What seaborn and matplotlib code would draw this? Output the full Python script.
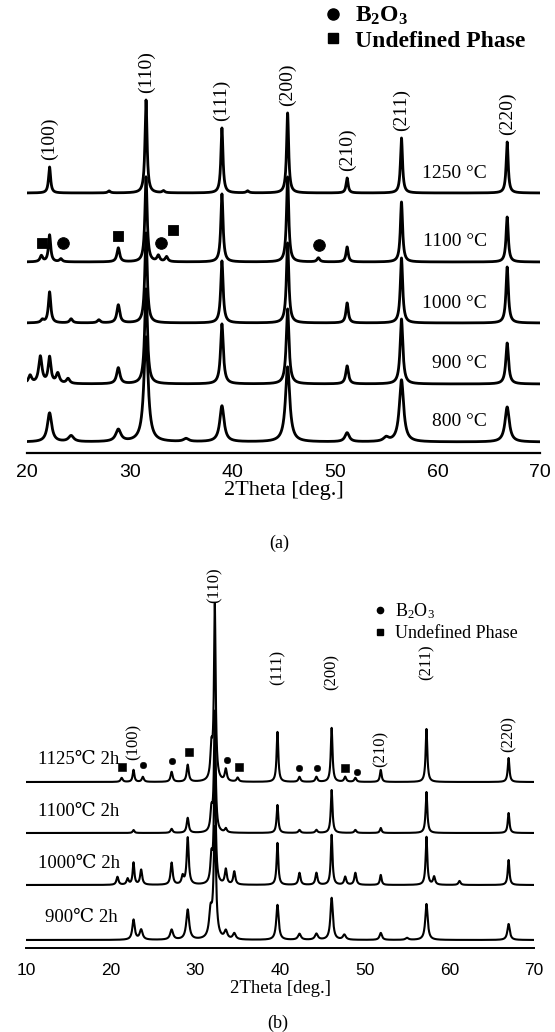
import numpy as np
import pandas as pd
import matplotlib
matplotlib.use('Agg')
import matplotlib.pyplot as plt
from matplotlib.lines import Line2D
import seaborn as sns

# ---------------- (a) calcined 800 - 1250 C ----------------
a_hkl = ['(100)', '(110)', '(111)', '(200)', '(210)', '(211)', '(220)']
a_pos = [22.2, 31.6, 39.0, 45.4, 51.2, 56.5, 66.8]
a_temps = ['1250 °C', '1100 °C', '1000 °C', '900 °C', '800 °C']
# peak heights (same order as a_hkl)
a_1250 = [26, 93, 65, 80, 15, 55, 51]
a_1100 = [27, 85, 68, 85, 15, 60, 45]
a_1000 = [31, 90, 62, 80, 20, 65, 56]
a_900 = [26, 95, 60, 75, 18, 65, 41]
a_800 = [29, 105, 36, 75, 9, 62, 35]
a_hwhm = [0.12, 0.13, 0.14, 0.16, 0.25]
# minor reflections (2theta, height)
a_extra_1250 = [(28.0, 2), (33.3, 2), (41.5, 2)]
a_extra_1100 = [(21.4, 6), (23.3, 3), (28.9, 14), (32.8, 6), (33.6, 5), (48.4, 4)]
a_extra_1000 = [(21.5, 3), (24.3, 4), (27.0, 3), (28.9, 18)]
a_extra_900 = [(20.3, 8), (21.3, 27), (23.0, 10), (24.0, 5), (28.9, 16)]
a_extra_800 = [(24.3, 6), (28.9, 12), (35.5, 3), (55.0, 4)]
a_b2o3 = [23.5, 33.1, 48.5]
a_undef = [21.5, 28.9, 34.2]

# ---------------- (b) 2h dwell 900 - 1125 C ----------------
b_hkl = ['(100)', '(110)', '(111)', '(200)', '(210)', '(211)', '(220)']
b_pos = [22.7, 32.3, 39.7, 46.1, 51.9, 57.3, 67.0]
b_temps = ['1125℃ 2h', '1100℃ 2h', '1000℃ 2h', '900℃ 2h']
b_1125 = [12, 175, 50, 54, 12, 53, 24]
b_1100 = [3, 120, 28, 43, 5, 41, 20]
b_1000 = [22, 130, 42, 50, 10, 48, 25]
b_900 = [20, 110, 35, 42, 7, 36, 16]
b_hwhm = [0.12, 0.12, 0.12, 0.17]
b_extra_1125 = [(21.3, 4), (23.8, 5), (27.2, 10), (29.1, 17), (31.9, 30), (33.6, 12),
                (35.0, 4), (42.3, 5), (44.3, 5), (47.7, 5), (48.9, 4)]
b_extra_1100 = [(27.2, 4), (29.1, 15), (31.9, 20), (33.6, 4), (42.3, 3), (44.3, 3), (48.9, 3)]
b_extra_1000 = [(20.8, 8), (22.0, 6), (23.6, 15), (27.2, 22), (28.5, 8), (29.1, 47), (31.9, 25),
                (33.6, 15), (34.6, 13), (42.3, 12), (44.3, 12), (47.7, 8), (48.9, 12),
                (58.2, 8), (61.2, 4)]
b_extra_900 = [(23.6, 10), (27.2, 10), (29.1, 30), (31.8, 25), (33.6, 8), (34.6, 6),
               (42.3, 6), (44.3, 6), (47.6, 5), (55.0, 2)]
b_b2o3 = [23.8, 27.2, 33.7, 42.3, 44.4, 49.1]
b_undef = [21.3, 29.3, 35.1, 47.7]


def pattern(x, pos, heights, hwhm, extra):
    # sum of lorentzian reflections
    y = np.zeros_like(x)
    for c, h in zip(pos, heights):
        y += h / (1 + ((x - c) / hwhm) ** 2)
    for c, h in extra:
        y += h / (1 + ((x - c) / (hwhm * 1.2)) ** 2)
    return y


sns.set_theme(style='white')
plt.rcParams['font.family'] = ['Liberation Serif', 'DejaVu Serif']
plt.rcParams['mathtext.fontset'] = 'custom'
plt.rcParams['mathtext.rm'] = 'Liberation Serif'
plt.rcParams['mathtext.it'] = 'Liberation Serif:italic'
plt.rcParams['mathtext.bf'] = 'Liberation Serif:bold'
plt.rcParams['text.color'] = 'black'
plt.rcParams['axes.labelcolor'] = 'black'
plt.rcParams['xtick.color'] = 'black'

W, H = 555, 1032
fig = plt.figure(figsize=(W / 100, H / 100), dpi=100)

# layout (pixels)
ax_a = fig.add_axes([27 / W, 1 - 453 / H, 513 / W, 453 / H])
ax_b = fig.add_axes([26 / W, 1 - 948 / H, 508 / W, 388 / H])

# ----- panel a -----
xa = np.linspace(20, 70, 3001)
a_sets = [a_1250, a_1100, a_1000, a_900, a_800]
a_extras = [a_extra_1250, a_extra_1100, a_extra_1000, a_extra_900, a_extra_800]
a_base = [260, 191, 130, 69, 11]
for temp, hts, ext, w, base in zip(a_temps, a_sets, a_extras, a_hwhm, a_base):
    df = pd.DataFrame({'two_theta': xa, 'counts': base + pattern(xa, a_pos, hts, w, ext)})
    sns.lineplot(data=df, x='two_theta', y='counts', ax=ax_a, color='black', lw=2.0,
                 estimator=None, sort=False)
    ax_a.text(64.8, base + 20, temp, ha='right', va='center', fontsize=14)

for p, h, lab in zip(a_pos, a_1250, a_hkl):
    ax_a.text(p, a_base[0] + h + 7, lab, rotation=90, ha='center', va='bottom', fontsize=14)

lift_b2o3 = [19, 19, 17]
lift_undef = [19, 26, 32]
sns.scatterplot(x=a_b2o3, y=[a_base[1] + l for l in lift_b2o3], marker='o', s=70,
                color='black', edgecolor='black', ax=ax_a, zorder=5)
sns.scatterplot(x=a_undef, y=[a_base[1] + l for l in lift_undef], marker='s', s=55,
                color='black', edgecolor='black', ax=ax_a, zorder=5)

handles_a = [Line2D([], [], ls='', marker='o', ms=8, color='black'),
             Line2D([], [], ls='', marker='s', ms=7, color='black')]
ax_a.legend(handles_a, [r'$\mathbf{B_2O_3}$', 'Undefined Phase'], loc='upper left',
            bbox_to_anchor=(321 / W, 1 - 5 / H), bbox_transform=fig.transFigure,
            frameon=False, prop={'weight': 'bold', 'size': 17}, handlelength=1.0,
            handletextpad=0.45, labelspacing=0.12, borderpad=0, borderaxespad=0)

ax_a.set_xlim(20, 70)
ax_a.set_ylim(0, 453)
ax_a.set_xticks(range(20, 71, 10))
ax_a.set_yticks([])
ax_a.tick_params(axis='x', direction='in', length=6, width=1.3, pad=8, labelsize=14)
for t in ax_a.get_xticklabels():
    t.set_family(['Liberation Sans', 'DejaVu Sans'])
ax_a.set_xlabel('2Theta [deg.]', fontsize=16, labelpad=0)
ax_a.set_ylabel('')
sns.despine(ax=ax_a, left=True)
ax_a.spines['bottom'].set_linewidth(1.6)
ax_a.spines['bottom'].set_color('black')
fig.text(279 / W, 1 - 543 / H, '(a)', ha='center', va='center', fontsize=13)

# ----- panel b -----
xb = np.linspace(10, 70, 3601)
b_sets = [b_1125, b_1100, b_1000, b_900]
b_extras = [b_extra_1125, b_extra_1100, b_extra_1000, b_extra_900]
b_base = [166, 115, 63, 8]
b_text_x = [11.4, 11.4, 11.4, 12.2]
for temp, hts, ext, w, base, tx in zip(b_temps, b_sets, b_extras, b_hwhm, b_base, b_text_x):
    df = pd.DataFrame({'two_theta': xb, 'counts': base + pattern(xb, b_pos, hts, w, ext)})
    sns.lineplot(data=df, x='two_theta', y='counts', ax=ax_b, color='black', lw=1.5,
                 estimator=None, sort=False)
    ax_b.text(tx, base + 22, temp, ha='left', va='center', fontsize=13.5)

b_label_lift = [22, 179, 97, 92, 15, 102, 30]
for p, l, lab in zip(b_pos, b_label_lift, b_hkl):
    ax_b.text(p, b_base[0] + l, lab, rotation=90, ha='center', va='bottom', fontsize=12)

lift_b_b2o3 = [17, 21, 22, 14, 14, 10]
lift_b_undef = [15, 30, 15, 14]
sns.scatterplot(x=b_b2o3, y=[b_base[0] + l for l in lift_b_b2o3], marker='o', s=22,
                color='black', edgecolor='black', ax=ax_b, zorder=5)
sns.scatterplot(x=b_undef, y=[b_base[0] + l for l in lift_b_undef], marker='s', s=28,
                color='black', edgecolor='black', ax=ax_b, zorder=5)

handles_b = [Line2D([], [], ls='', marker='o', ms=4.5, color='black'),
             Line2D([], [], ls='', marker='s', ms=4.5, color='black')]
ax_b.legend(handles_b, [r'B$_2$O$_3$', 'Undefined Phase'], loc='upper left',
            bbox_to_anchor=(373 / W, 1 - 601 / H), bbox_transform=fig.transFigure,
            frameon=False, prop={'size': 13}, handlelength=0.8,
            handletextpad=0.42, labelspacing=0.25, borderpad=0, borderaxespad=0)

ax_b.set_xlim(10, 70)
ax_b.set_ylim(0, 388)
ax_b.set_xticks(range(10, 71, 10))
ax_b.set_yticks([])
ax_b.tick_params(axis='x', direction='in', length=5, width=1.2, pad=11, labelsize=12.5)
for t in ax_b.get_xticklabels():
    t.set_family(['Liberation Sans', 'DejaVu Sans'])
ax_b.set_xlabel('2Theta [deg.]', fontsize=13.5, labelpad=1)
ax_b.set_ylabel('')
sns.despine(ax=ax_b, left=True)
ax_b.spines['bottom'].set_linewidth(1.4)
ax_b.spines['bottom'].set_color('black')
fig.text(278 / W, 1 - 1023 / H, '(b)', ha='center', va='center', fontsize=13)

fig.savefig('out.png', dpi=100)
